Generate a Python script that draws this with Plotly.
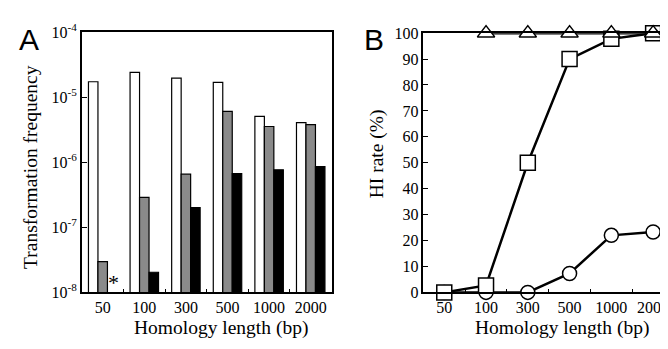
import plotly.graph_objects as go
import math

categories = ["50", "100", "300", "500", "1000", "2000"]

# Panel A: transformation frequency
freq_white = [1.73e-5, 2.41e-5, 1.97e-5, 1.69e-5, 5.07e-6, 4.06e-6]
freq_gray = [2.97e-8, 2.88e-7, 6.56e-7, 6.07e-6, 3.55e-6, 3.8e-6]
freq_black = [None, 2.04e-8, 2.01e-7, 6.7e-7, 7.66e-7, 8.55e-7]

ytick_vals = [1e-8, 1e-7, 1e-6, 1e-5, 1e-4]
ytick_text = ["10<sup>-8</sup>", "10<sup>-7</sup>", "10<sup>-6</sup>", "10<sup>-5</sup>", "10<sup>-4</sup>"]

# Panel B: HI rate (%)
tri_x = ["100", "300", "500", "1000", "2000"]
tri_y = [100, 100, 100, 100, 100]
sq_x = ["50", "100", "300", "500", "1000", "2000"]
sq_y = [0, 2.7, 50, 90, 97.8, 100]
circ_x = ["50", "100", "300", "500", "1000", "2000"]
circ_y = [0, 0, 0, 7.3, 22, 23.3]
b_ticks = [0, 10, 20, 30, 40, 50, 60, 70, 80, 90, 100]

W, H = 668, 349
SERIF = "Liberation Serif, Times New Roman, serif"

fig = go.Figure()

for vals, col in [(freq_white, "white"), (freq_gray, "#8a8a8a"), (freq_black, "black")]:
    fig.add_trace(go.Bar(x=categories, y=vals, marker=dict(color=col, line=dict(color="black", width=1.2)),
                         xaxis="x", yaxis="y", showlegend=False))

for xs, ys, sym, sz in [(circ_x, circ_y, "circle", 14), (sq_x, sq_y, "square", 15), (tri_x, tri_y, "triangle-up", 15)]:
    fig.add_trace(go.Scatter(x=xs, y=ys, mode="lines+markers", xaxis="x2", yaxis="y2",
                             line=dict(color="black", width=2.5),
                             marker=dict(symbol=sym, size=sz, color="white", line=dict(color="black", width=1.5)),
                             cliponaxis=False, showlegend=False))

def px(x):
    return x / W

def py(y):
    return 1 - y / H

axis_common = dict(showline=True, linecolor="black", linewidth=1.5, mirror=True, showgrid=False,
                   zeroline=False, tickfont=dict(family=SERIF, size=16, color="black"), ticks="inside",
                   tickcolor="black")

fig.update_layout(
    width=W, height=H, margin=dict(l=0, r=0, t=0, b=0),
    paper_bgcolor="white", plot_bgcolor="white",
    barmode="group", bargap=0.316, bargroupgap=0,
    xaxis=dict(axis_common, domain=[px(74), px(324)], type="category", categoryorder="array",
               categoryarray=categories, range=[-0.5, 5.5], tickson="boundaries", ticklen=4, anchor="y"),
    yaxis=dict(axis_common, domain=[py(290), py(14)], type="log", range=[-8, -4], tickvals=ytick_vals,
               ticktext=ytick_text, ticklen=5, anchor="x"),
    xaxis2=dict(axis_common, domain=[px(416), px(667)], type="category", categoryorder="array",
                categoryarray=categories, range=[-0.5, 5.5], tickson="boundaries", ticklen=4, anchor="y2"),
    yaxis2=dict(axis_common, domain=[py(290), py(15)], range=[0, 100], tickvals=b_ticks, ticklen=5,
                anchor="x2"),
)

fig.add_annotation(x=0.27, y=math.log10(1.4e-8), xref="x", yref="y", text="*", showarrow=False,
                   font=dict(family=SERIF, size=22, color="#000000"))

labels = [
    dict(x=px(21), y=py(22), text="A", font=dict(family="Liberation Sans, Arial, sans-serif", size=30)),
    dict(x=px(367), y=py(22), text="B", font=dict(family="Liberation Sans, Arial, sans-serif", size=30)),
    dict(x=px(213), y=py(328), text="Homology length (bp)", font=dict(family=SERIF, size=19.5)),
    dict(x=px(555), y=py(328), text="Homology length (bp)", font=dict(family=SERIF, size=19.5)),
    dict(x=px(22), y=py(157), text="Transformation frequency", textangle=-90, font=dict(family=SERIF, size=19.5)),
    dict(x=px(369), y=py(143), text="HI rate (%)", textangle=-90, font=dict(family=SERIF, size=19.5)),
]
for lab in labels:
    lab["font"]["color"] = "black"
    fig.add_annotation(xref="paper", yref="paper", showarrow=False, xanchor="center", yanchor="middle", **lab)

fig.write_html("out.html")
